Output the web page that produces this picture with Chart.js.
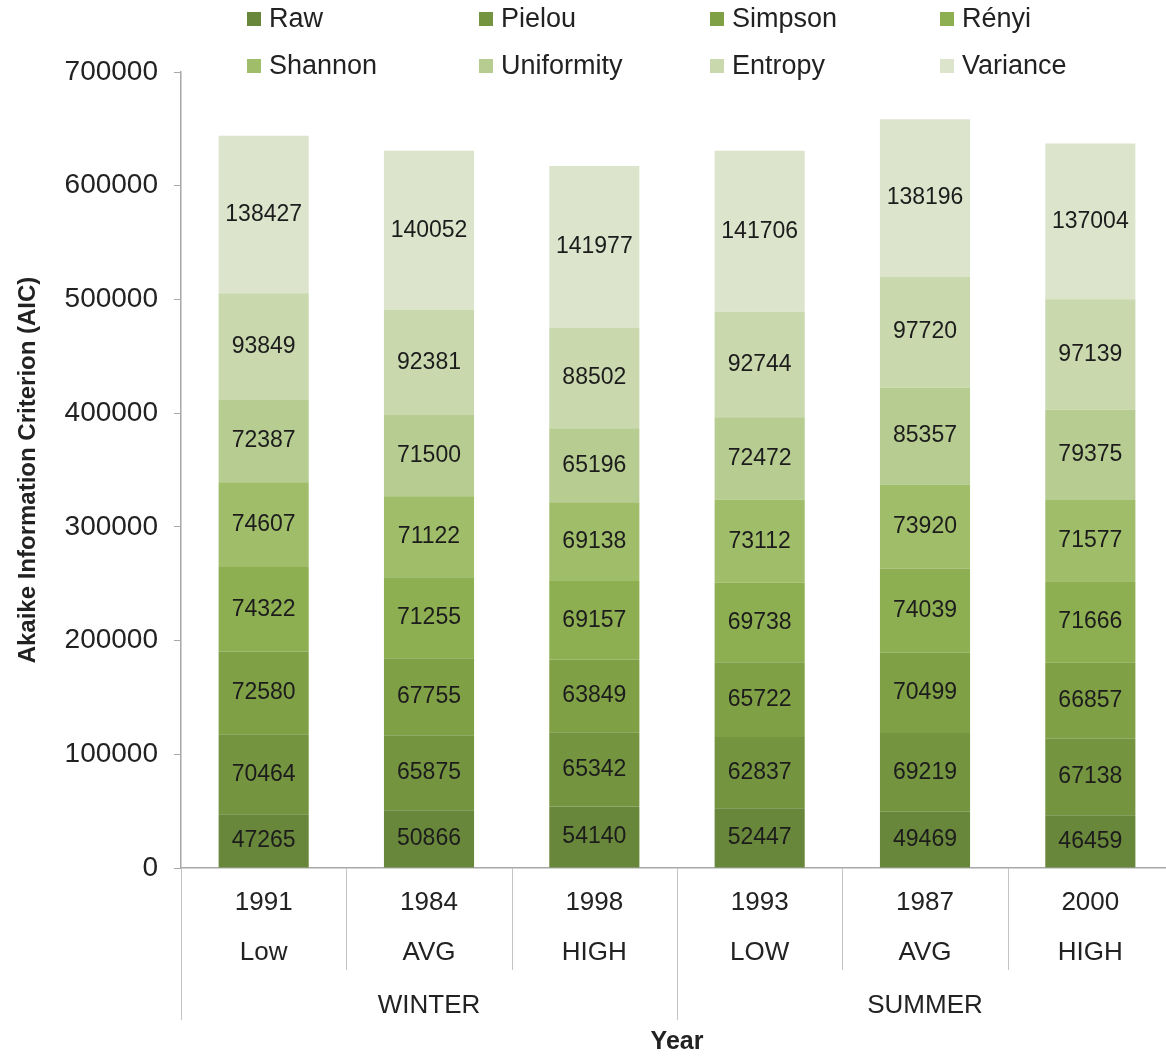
<!DOCTYPE html>
<html>
<head>
<meta charset="utf-8">
<script src="https://cdn.jsdelivr.net/npm/chart.js@4.4.1/dist/chart.umd.min.js"></script>
<style>
  html, body { margin: 0; padding: 0; background: #ffffff; }
  #wrap { width: 1166px; height: 1057px; overflow: hidden; }
</style>
</head>
<body>
<div id="wrap"><canvas id="aic" width="1173" height="1057"></canvas></div>
<script>
// Categories: year, flow level, season
const years  = ['1991', '1984', '1998', '1993', '1987', '2000'];
const levels = ['Low', 'AVG', 'HIGH', 'LOW', 'AVG', 'HIGH'];
const seasons = ['WINTER', 'SUMMER'];
const seasonSpan = 3;

// AIC per index, stacked bottom to top
const raw        = [47265, 50866, 54140, 52447, 49469, 46459];
const pielou     = [70464, 65875, 65342, 62837, 69219, 67138];
const simpson    = [72580, 67755, 63849, 65722, 70499, 66857];
const renyi      = [74322, 71255, 69157, 69738, 74039, 71666];
const shannon    = [74607, 71122, 69138, 73112, 73920, 71577];
const uniformity = [72387, 71500, 65196, 72472, 85357, 79375];
const entropy    = [93849, 92381, 88502, 92744, 97720, 97139];
const variance   = [138427, 140052, 141977, 141706, 138196, 137004];

const seriesNames = ['Raw', 'Pielou', 'Simpson', 'Rényi', 'Shannon', 'Uniformity', 'Entropy', 'Variance'];
const seriesValues = [raw, pielou, simpson, renyi, shannon, uniformity, entropy, variance];
const seriesColors = ['#68873a', '#74943f', '#80a046', '#8dae51', '#a0bd6a', '#b6cc90', '#c9d8ad', '#dce4cb'];

const yTicks = [0, 100000, 200000, 300000, 400000, 500000, 600000, 700000];

const FONT = '"Liberation Sans", Arial, sans-serif';
const AXIS_GREY = '#a8a8a8';
const TEXT = '#222222';

// Values written in the middle of each stacked segment
const segmentLabels = {
  id: 'segmentLabels',
  afterDatasetsDraw(chart) {
    const ctx = chart.ctx;
    ctx.save();
    ctx.font = '23px ' + FONT;
    ctx.fillStyle = '#1c1c1c';
    ctx.textAlign = 'center';
    ctx.textBaseline = 'middle';
    chart.data.datasets.forEach((ds, i) => {
      const meta = chart.getDatasetMeta(i);
      meta.data.forEach((bar, j) => {
        const p = bar.getProps(['x', 'y', 'base'], true);
        ctx.fillText(String(ds.data[j]), p.x, (p.y + p.base) / 2);
      });
    });
    ctx.restore();
  }
};

// Category dividers and season group labels under the x axis
const groupAxis = {
  id: 'groupAxis',
  afterDraw(chart) {
    const ctx = chart.ctx;
    const x = chart.scales.x;
    const area = chart.chartArea;
    const n = years.length;
    const step = (area.right - area.left) / n;
    ctx.save();
    ctx.strokeStyle = '#c4c4c4';
    ctx.lineWidth = 1;
    for (let k = 0; k < n; k++) {
      const bx = Math.round(area.left + k * step) + 0.5;
      const long = k % seasonSpan === 0;
      ctx.beginPath();
      ctx.moveTo(bx, area.bottom);
      ctx.lineTo(bx, area.bottom + (long ? 152 : 102));
      ctx.stroke();
    }
    ctx.font = '26px ' + FONT;
    ctx.fillStyle = TEXT;
    ctx.textAlign = 'center';
    ctx.textBaseline = 'middle';
    seasons.forEach((s, g) => {
      const mid = (g * seasonSpan + (seasonSpan - 1) / 2);
      ctx.fillText(s, x.getPixelForValue(mid), area.bottom + 138);
    });
    ctx.restore();
  }
};

// Two-row legend with fixed columns
const gridLegend = {
  id: 'gridLegend',
  afterDraw(chart) {
    const ctx = chart.ctx;
    const colX = [247, 479, 710, 940];
    const rowY = [19, 66];
    ctx.save();
    ctx.font = '27px ' + FONT;
    ctx.textBaseline = 'middle';
    ctx.textAlign = 'left';
    seriesNames.forEach((name, i) => {
      const cx = colX[i % 4];
      const cy = rowY[Math.floor(i / 4)];
      ctx.fillStyle = seriesColors[i];
      ctx.fillRect(cx, cy - 7, 14, 14);
      ctx.fillStyle = TEXT;
      ctx.fillText(name, cx + 22, cy + 1);
    });
    ctx.restore();
  }
};

const labels = years.map((y, i) => [y, levels[i]]);

new Chart(document.getElementById('aic'), {
  type: 'bar',
  data: {
    labels: labels,
    datasets: seriesNames.map((name, i) => ({
      label: name,
      data: seriesValues[i],
      backgroundColor: seriesColors[i],
      borderWidth: 0,
      barPercentage: 0.545,
      categoryPercentage: 1.0
    }))
  },
  options: {
    responsive: false,
    animation: false,
    layout: { padding: { top: 72, right: 0, bottom: 0, left: 0 } },
    plugins: {
      legend: { display: false },
      tooltip: { enabled: false }
    },
    scales: {
      x: {
        stacked: true,
        grid: { display: false, drawTicks: false },
        border: { display: true, color: AXIS_GREY, width: 1.5 },
        ticks: {
          color: TEXT,
          font: { family: FONT, size: 26, lineHeight: 1.92 },
          padding: 10,
          maxRotation: 0,
          autoSkip: false
        },
        title: {
          display: true,
          text: 'Year',
          color: TEXT,
          font: { family: FONT, size: 25, weight: 'bold' },
          padding: { top: 0, bottom: 0 }
        },
        afterFit(scale) { scale.height = 189; }
      },
      y: {
        stacked: true,
        min: 0,
        max: 700000,
        afterBuildTicks(scale) { scale.ticks = yTicks.map(v => ({ value: v })); },
        grid: { display: true, drawOnChartArea: false, drawTicks: true, tickLength: 7, color: AXIS_GREY },
        border: { display: true, color: AXIS_GREY, width: 1.5 },
        ticks: {
          color: TEXT,
          font: { family: FONT, size: 28 },
          padding: 16,
          callback: (v) => String(v)
        },
        title: {
          display: true,
          text: 'Akaike Information Criterion (AIC)',
          color: TEXT,
          font: { family: FONT, size: 24, weight: 'bold' },
          padding: { top: 14, bottom: 0 }
        },
        afterFit(scale) { scale.width = 181; }
      }
    }
  },
  plugins: [segmentLabels, groupAxis, gridLegend]
});
</script>
</body>
</html>
